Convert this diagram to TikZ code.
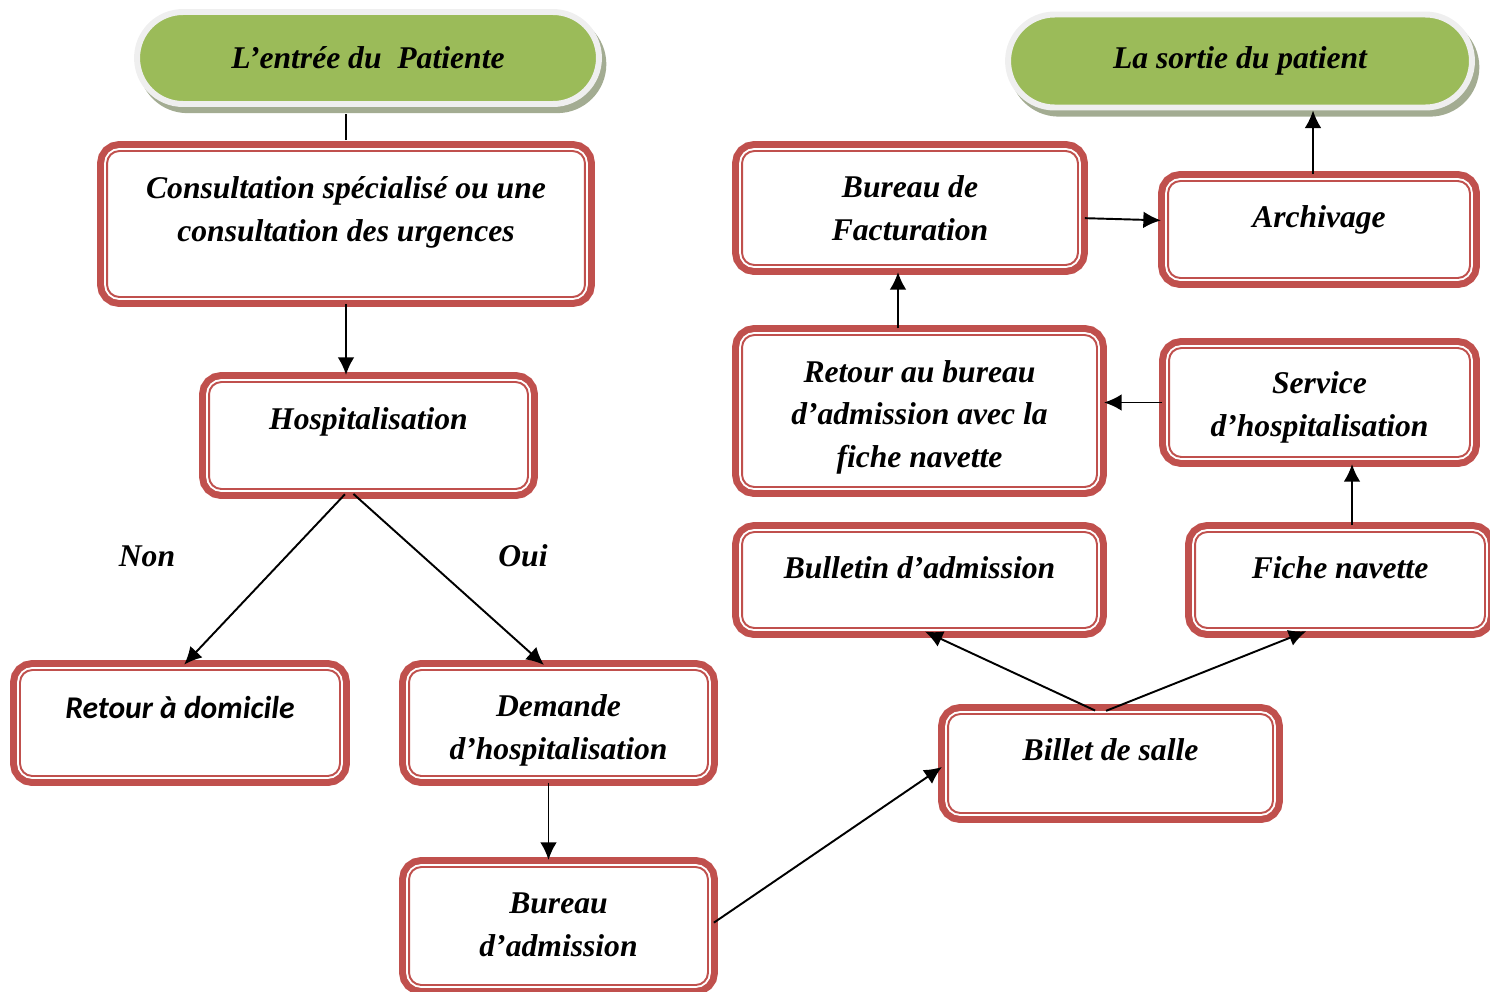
\documentclass[tikz,border=0pt]{standalone}
\usepackage{fontspec}
\setmainfont{Liberation Serif}
\newfontfamily\calibri{Carlito}
\usetikzlibrary{shapes.misc, arrows.meta}

\definecolor{boxred}{HTML}{C0504D}
\definecolor{pillgreen}{HTML}{9BBB59}
\definecolor{pillrim}{HTML}{EFEFEF}
\definecolor{pillshadow}{HTML}{A3AC92}

\begin{document}
\begin{tikzpicture}
    [
        x=0.02cm, y=-0.02cm,
        etape/.style = {draw=boxred, fill=white, line width=1.1pt, rounded corners=7pt, inner sep=0pt, align=center,
                        font=\bfseries\itshape\fontsize{18}{24}\selectfont,
                        preaction={draw=boxred, line width=11.3pt},
                        preaction={draw=white, line width=3.3pt}},
        bulle/.style = {shape=rounded rectangle, fill=pillgreen, draw=pillrim, line width=3.4pt, inner sep=0pt,
                        font=\bfseries\itshape\fontsize{18}{24}\selectfont,
                        preaction={draw=pillshadow, fill=pillshadow, line width=3.4pt, transform canvas={shift={(2.5pt,-3.5pt)}}}},
        etiquette/.style = {font=\bfseries\itshape\fontsize{18}{24}\selectfont},
        fleche/.style = {-{Latex[length=10pt, width=9.5pt]}, line width=1.1pt, shorten >=3.5pt, shorten <=3.4pt},
    ]
    \useasboundingbox (0,0) rectangle (1490,991);

    % colonne de gauche
    \node[bulle, minimum width=9.24cm, minimum height=1.84cm] (entree) at (368,58) {L’entrée du~ Patiente};
    \node[etape, minimum width=9.56cm, text height=1.8cm, text depth=1.12cm] (consult) at (346,224)
        {Consultation spécialisé ou une\\ consultation des urgences};
    \node[etape, minimum width=6.38cm, text height=0.94cm, text depth=1.2cm] (hosp) at (368.5,435.5) {Hospitalisation};
    \node[etape, minimum width=6.4cm, text height=0.96cm, text depth=1.16cm, font=\calibri\bfseries\itshape\fontsize{18}{24}\selectfont]
        (domicile) at (180,723) {Retour à domicile};
    \node[etape, minimum width=5.98cm, text height=1.78cm, text depth=0.34cm] (demande) at (558.5,723)
        {Demande\\ d’hospitalisation};
    \node[etape, minimum width=5.98cm, text height=1.78cm, text depth=0.58cm] (admission) at (558.5,926)
        {Bureau\\ d’admission};

    \node[etiquette] (non) at (147,556) {Non};
    \node[etiquette] (oui) at (523,556) {Oui};

    % colonne de droite
    \node[etape, minimum width=6.5cm, text height=0.92cm, text depth=1.06cm] (billet) at (1110.5,763.5) {Billet de salle};
    \node[etape, minimum width=7.1cm, text height=0.92cm, text depth=1.0cm] (bulletin) at (919.5,580) {Bulletin d’admission};
    \node[etape, minimum width=5.8cm, text height=0.92cm, text depth=1.0cm] (fiche) at (1340,580) {Fiche navette};
    \node[etape, minimum width=6.02cm, text height=1.76cm, text depth=0.42cm] (service) at (1319.5,402.5)
        {Service\\ d’hospitalisation};
    \node[etape, minimum width=7.1cm, text height=2.64cm, text depth=0.4cm] (retour) at (919.5,411)
        {Retour au bureau\\ d’admission avec la\\ fiche navette};
    \node[etape, minimum width=6.72cm, text height=1.78cm, text depth=0.5cm] (factur) at (910,208)
        {Bureau de\\ Facturation};
    \node[etape, minimum width=6.04cm, text height=0.92cm, text depth=1.02cm] (archiv) at (1319,229.5) {Archivage};
    \node[bulle, minimum width=9.28cm, minimum height=1.86cm] (sortie) at (1240,61) {La sortie du patient};

    % liaisons
    \draw[line width=1.1pt, shorten <=5.6pt, shorten >=4pt] (consult.north) -- (consult.north |- entree.south);
    \draw[fleche] (consult.south) -- (consult.south |- hosp.north);
    \coordinate (hospbas) at ([xshift=-0.39cm]hosp.south);
    \draw[fleche] (hospbas) -- (domicile.north);
    \draw[fleche] (hospbas) -- ([xshift=-0.2cm]demande.north);
    \draw[fleche] ([xshift=-0.2cm]demande.south) -- ([xshift=-0.2cm]admission.north);
    \draw[fleche] (admission.east) -- (billet.west);
    \coordinate (billethaut) at ([xshift=-0.2cm]billet.north);
    \draw[fleche] (billethaut) -- (bulletin.south);
    \draw[fleche] (billethaut) -- ([xshift=-0.56cm]fiche.south);
    \draw[fleche] ([xshift=0.24cm]fiche.north) -- ([xshift=0.24cm]fiche.north |- service.south);
    \draw[fleche] (service.west) -- (service.west -| retour.east);
    \draw[fleche] ([xshift=-0.43cm]retour.north) -- ([xshift=-0.43cm]retour.north |- factur.south);
    \draw[fleche] ([yshift=-0.2cm]factur.east) -- ([yshift=0.18cm]archiv.west);
    \draw[fleche, shorten >=0pt] ([xshift=-0.12cm]archiv.north) -- ([xshift=-0.12cm]archiv.north |- sortie.south);
\end{tikzpicture}
\end{document}
